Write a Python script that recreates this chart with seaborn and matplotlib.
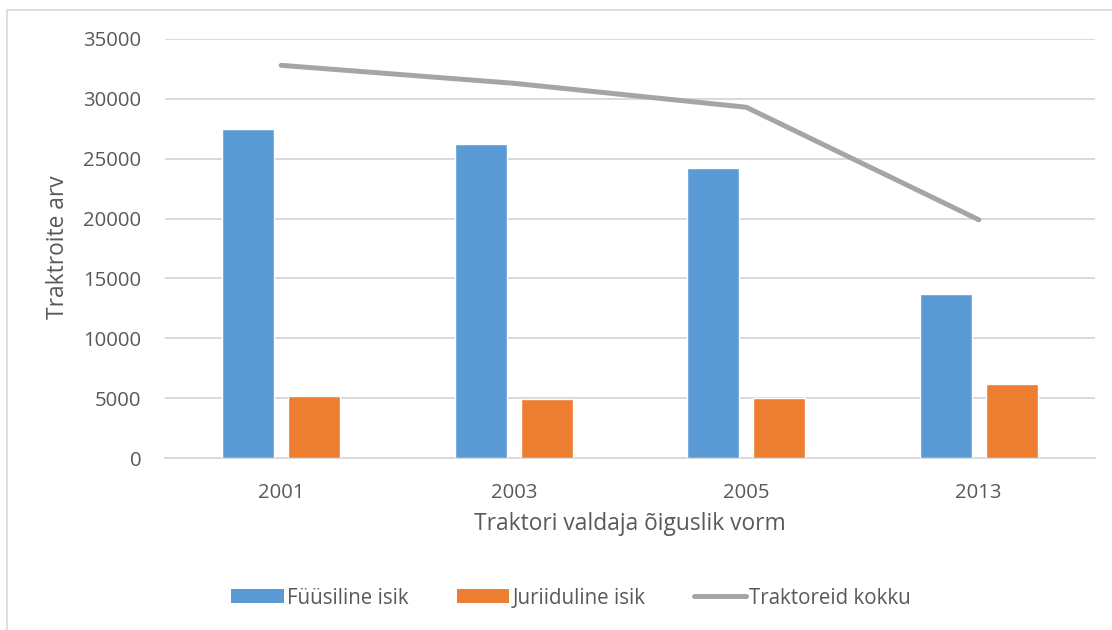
import matplotlib
matplotlib.use("Agg")
import matplotlib.pyplot as plt
from matplotlib.patches import Patch, Rectangle
from matplotlib.lines import Line2D
import numpy as np
import pandas as pd
import seaborn as sns

# Data
years = ["2001", "2003", "2005", "2013"]
fuusiline = [27500, 26200, 24200, 13700]
juriidiline = [5200, 4900, 5000, 6200]
kokku = [32800, 31300, 29300, 19900]

series_names = ["Füüsiline isik", "Juriiduline isik", "Traktoreid kokku"]
yticks = [0, 5000, 10000, 15000, 20000, 25000, 30000, 35000]

BLUE = "#5b9bd5"
ORANGE = "#ed7d31"
GREY = "#a5a5a5"
TEXT = "#595959"
GRID = "#d9d9d9"

sns.set_theme(style="white")
plt.rcParams["font.family"] = ["Open Sans", "DejaVu Sans"]

df = pd.DataFrame({
    "aasta": years * 2,
    "arv": fuusiline + juriidiline,
    "vorm": [series_names[0]] * len(years) + [series_names[1]] * len(years),
})

fig = plt.figure(figsize=(11.12, 6.3), dpi=100)
ax = fig.add_axes([165 / 1112, 1 - 458 / 630, 930 / 1112, (458 - 39) / 630])

# outer chart frame
fig.patches.append(Rectangle((7 / 1112, -0.1), 1.2, 1 - 10 / 630 + 0.1,
                             transform=fig.transFigure, fill=False,
                             edgecolor="#d9d9d9", linewidth=1.2, zorder=0))

sns.barplot(data=df, x="aasta", y="arv", hue="vorm", order=years,
            hue_order=series_names[:2], palette=[BLUE, ORANGE],
            width=0.568, gap=0.212, saturation=1, ax=ax, legend=False,
            zorder=3)

ax.plot(np.arange(len(years)), kokku, color=GREY, linewidth=3.6,
        solid_capstyle="round", solid_joinstyle="round", zorder=4)

ax.set_ylim(0, 35000)
ax.set_xlim(-0.5, len(years) - 0.5)
ax.set_yticks(yticks)
ax.set_yticklabels([str(t) for t in yticks])
ax.yaxis.grid(True, color=GRID, linewidth=1.4, zorder=0)
ax.set_axisbelow(True)
for s in ["top", "right", "left"]:
    ax.spines[s].set_visible(False)
ax.spines["bottom"].set_color(GRID)
ax.spines["bottom"].set_linewidth(1.4)

ax.tick_params(axis="y", length=0, pad=17, labelsize=14.6, labelcolor=TEXT)
ax.tick_params(axis="x", length=0, pad=18, labelsize=14.6, labelcolor=TEXT)
ax.set_xlabel("")
ax.set_ylabel("")

fig.text(58 / 1112, 1 - 247 / 630, "Traktroite arv", rotation=90,
         ha="center", va="center", fontsize=16.4, color=TEXT)
fig.text(630 / 1112, 1 - 524 / 630, "Traktori valdaja õiguslik vorm",
         ha="center", va="center", fontsize=16.4, color=TEXT)

handles = [Patch(facecolor=BLUE, edgecolor="none"),
           Patch(facecolor=ORANGE, edgecolor="none"),
           Line2D([0], [0], color=GREY, linewidth=3.6, solid_capstyle="round")]
fig.legend(handles, series_names, loc="center", bbox_to_anchor=(571 / 1112, 1 - 598 / 630),
           ncol=3, frameon=False, fontsize=14.8, labelcolor=TEXT,
           handlelength=2.56, handleheight=0.64, handletextpad=0.15,
           columnspacing=2.35)

fig.savefig("out.png", dpi=100, facecolor="white")
